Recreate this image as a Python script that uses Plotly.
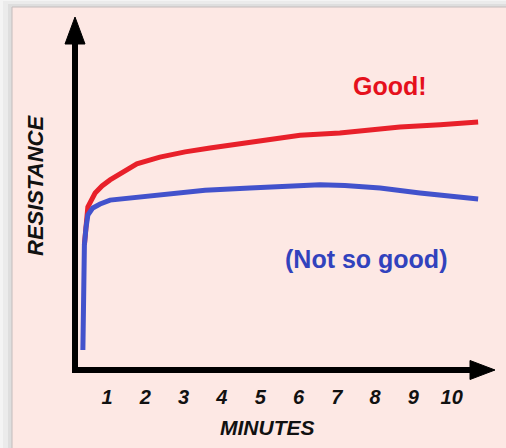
import plotly.graph_objects as go

# ---- data ----
red_minutes = [0.41, 0.44, 0.50, 0.69, 0.87, 1.08, 1.39, 1.78, 2.38, 3.04, 3.69, 4.73, 6.04, 7.08, 8.65, 9.70, 10.69]
red_resistance = [36.1, 41.5, 46.8, 50.7, 52.7, 54.4, 56.3, 58.9, 60.8, 62.3, 63.4, 65.1, 67.0, 67.6, 69.3, 69.9, 70.7]

blue_minutes = [0.37, 0.38, 0.39, 0.41, 0.45, 0.50, 0.63, 0.82, 1.08, 2.12, 3.56, 4.73, 6.04, 6.56, 7.21, 8.13, 9.17, 10.69]
blue_resistance = [6.5, 20.6, 31.3, 36.1, 40.8, 44.5, 46.5, 47.6, 48.7, 49.9, 51.5, 52.1, 52.7, 53.0, 52.8, 52.1, 50.7, 49.0]

tick_values = [1, 2, 3, 4, 5, 6, 7, 8, 9, 10]
tick_labels = ["1", "2", "3", "4", "5", "6", "7", "8", "9", "10"]

# ---- layout geometry ----
W, H = 506, 448
ML, MR, MT, MB = 75, 0, 0, 76
PW, PH = W - ML - MR, H - MT - MB


def fx(px):
    return (px - ML) / PW


def fy(py):
    return (H - MB - py) / PH


FONT = "Liberation Sans, Arial, Helvetica, sans-serif"
RED = "#e8202a"
BLUE = "#4252cc"
BLACK = "#000000"

fig = go.Figure()
fig.add_trace(go.Scatter(x=red_minutes, y=red_resistance, mode="lines",
                         line=dict(color=RED, width=5), hoverinfo="skip", showlegend=False))
fig.add_trace(go.Scatter(x=blue_minutes, y=blue_resistance, mode="lines",
                         line=dict(color=BLUE, width=5), hoverinfo="skip", showlegend=False))

shapes = []
# shadow / panel
shapes.append(dict(type="rect", xref="paper", yref="paper", x0=fx(3), x1=fx(W + 5), y0=fy(H + 5), y1=fy(1),
                   fillcolor="#ebebeb", line=dict(width=0), layer="below"))
shapes.append(dict(type="rect", xref="paper", yref="paper", x0=fx(8), x1=fx(W + 5), y0=fy(H + 5), y1=fy(4),
                   fillcolor="#dedede", line=dict(width=0), layer="below"))
shapes.append(dict(type="rect", xref="paper", yref="paper", x0=fx(12), x1=fx(W + 5), y0=fy(H + 5), y1=fy(7),
                   fillcolor="#fde8e4", line=dict(color="#c4bcbc", width=1), layer="below"))
# y axis arrow
shapes.append(dict(type="line", xref="paper", yref="paper", x0=fx(75), x1=fx(75), y0=fy(373), y1=fy(40),
                   line=dict(color=BLACK, width=6)))
shapes.append(dict(type="path", xref="paper", yref="paper",
                   path=f"M {fx(65)} {fy(44)} L {fx(85)} {fy(44)} L {fx(75)} {fy(17)} Z",
                   fillcolor=BLACK, line=dict(color=BLACK, width=1)))
# x axis arrow
shapes.append(dict(type="line", xref="paper", yref="paper", x0=fx(72), x1=fx(472), y0=fy(370), y1=fy(370),
                   line=dict(color=BLACK, width=6)))
shapes.append(dict(type="path", xref="paper", yref="paper",
                   path=f"M {fx(470)} {fy(360.5)} L {fx(470)} {fy(379.5)} L {fx(495)} {fy(370)} Z",
                   fillcolor=BLACK, line=dict(color=BLACK, width=1)))

annotations = [
    dict(text="Good!", x=fx(390), y=fy(86), xref="paper", yref="paper", showarrow=False,
         xanchor="center", yanchor="middle",
         font=dict(family=FONT, size=25, color="#e5101c", weight="bold")),
    dict(text="(Not so good)", x=fx(366), y=fy(259), xref="paper", yref="paper", showarrow=False,
         xanchor="center", yanchor="middle",
         font=dict(family=FONT, size=25, color="#3142bd", weight="bold")),
    dict(text="MINUTES", x=fx(267), y=fy(427), xref="paper", yref="paper", showarrow=False,
         xanchor="center", yanchor="middle",
         font=dict(family=FONT, size=21, color="#111111", weight="bold", style="italic")),
    dict(text="RESISTANCE", x=fx(35), y=fy(186), xref="paper", yref="paper", showarrow=False,
         xanchor="center", yanchor="middle", textangle=-90,
         font=dict(family=FONT, size=22, color="#111111", weight="bold", style="italic")),
]

fig.update_layout(
    width=W, height=H,
    margin=dict(l=ML, r=MR, t=MT, b=MB, pad=0),
    paper_bgcolor="#f4f4f4",
    plot_bgcolor="rgba(0,0,0,0)",
    shapes=shapes,
    annotations=annotations,
    showlegend=False,
    xaxis=dict(range=[(ML - 68.7) / 38.3, (W - 68.7) / 38.3], showgrid=False, zeroline=False,
               showline=False, tickmode="array", tickvals=tick_values, ticktext=tick_labels,
               ticks="outside", ticklen=7, tickcolor="rgba(0,0,0,0)",
               tickfont=dict(family=FONT, size=20, color="#111111", weight="bold", style="italic")),
    yaxis=dict(range=[(373 - 372) / 3.55, 373 / 3.55], showgrid=False, zeroline=False,
               showline=False, showticklabels=False, ticks=""),
)

fig.write_html("out.html", config={"displayModeBar": False},
               post_script="document.body.style.margin='0';document.body.style.overflow='hidden';")
